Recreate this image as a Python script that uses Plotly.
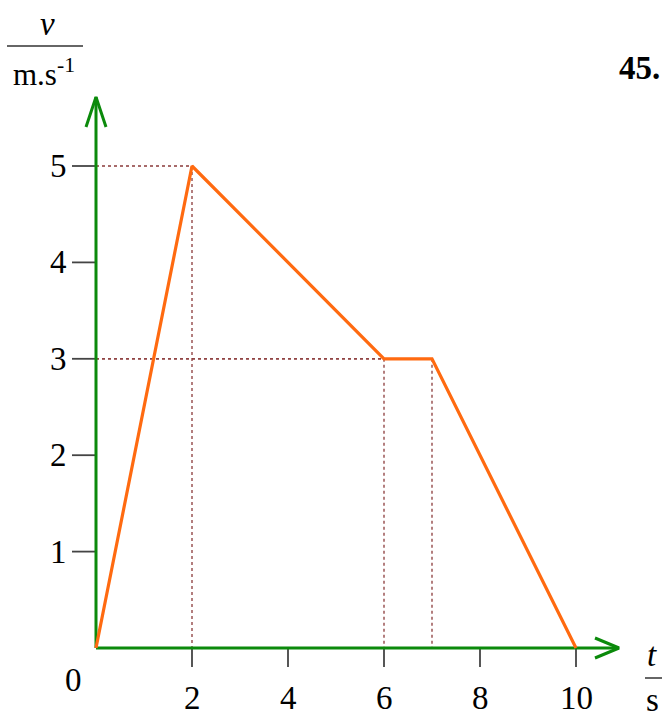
import plotly.graph_objects as go

# Data
t_vals = [0, 2, 6, 7, 10]
v_vals = [0, 5, 3, 3, 0]
x_ticks = [2, 4, 6, 8, 10]
x_tick_labels = ["2", "4", "6", "8", "10"]
y_ticks = [1, 2, 3, 4, 5]
y_tick_labels = ["1", "2", "3", "4", "5"]
guide_points = [(2, 5), (6, 3), (7, 3)]

W, H = 662, 713
X0PX, Y0PX = 96, 648
SX, SY = 48.0, 96.4
xr = [-X0PX / SX, (W - X0PX) / SX]
yr = [-(H - Y0PX) / SY, Y0PX / SY]

SERIF = "Liberation Serif, Times New Roman, serif"
GREEN = "#0b8a0b"
ORANGE = "#ff6a10"
DOT = "#8b3a3a"
FS = 33

fig = go.Figure()

# dotted guide lines
for gx, gy in guide_points:
    fig.add_trace(go.Scatter(x=[0, gx, gx], y=[gy, gy, 0], mode="lines",
                             line=dict(color=DOT, width=1.3, dash="dot"),
                             hoverinfo="skip", showlegend=False))

# tick marks
tx, ty = [], []
for v in x_ticks:
    tx += [v, v, None]
    ty += [0, -19 / SY, None]
for v in y_ticks:
    tx += [-24 / SX, 0, None]
    ty += [v, v, None]
fig.add_trace(go.Scatter(x=tx, y=ty, mode="lines", line=dict(color="#444444", width=1.8),
                         hoverinfo="skip", showlegend=False))

# axes with open arrowheads
x_end = (619 - 96) / SX
y_end = (648 - 97) / SY
ah_len_x, ah_w_x_half = 24 / SX, 10 / SY
ah_len_y, ah_w_y_half = 30 / SY, 10 / SX
fig.add_trace(go.Scatter(
    x=[0, x_end, None, x_end - ah_len_x, x_end, x_end - ah_len_x],
    y=[0, 0, None, ah_w_x_half, 0, -ah_w_x_half],
    mode="lines", line=dict(color=GREEN, width=3), hoverinfo="skip", showlegend=False))
fig.add_trace(go.Scatter(
    x=[0, 0, None, -ah_w_y_half, 0, ah_w_y_half],
    y=[0, y_end, None, y_end - ah_len_y, y_end, y_end - ah_len_y],
    mode="lines", line=dict(color=GREEN, width=3), hoverinfo="skip", showlegend=False))

# velocity graph
fig.add_trace(go.Scatter(x=t_vals, y=v_vals, mode="lines",
                         line=dict(color=ORANGE, width=3.2), showlegend=False))

ann = []
for v, lab in zip(x_ticks, x_tick_labels):
    ann.append(dict(x=v, y=-50 / SY, text=lab, showarrow=False,
                    font=dict(family=SERIF, size=FS, color="black")))
for v, lab in zip(y_ticks, y_tick_labels):
    ann.append(dict(x=-38 / SX, y=v, text=lab, showarrow=False,
                    font=dict(family=SERIF, size=FS, color="black")))
ann.append(dict(x=-23 / SX, y=-32 / SY, text="0", showarrow=False,
                font=dict(family=SERIF, size=FS, color="black")))


def P(px, py):
    return px / W, 1 - py / H


def text_px(px, py, txt, size=FS, **kw):
    x, y = P(px, py)
    ann.append(dict(xref="paper", yref="paper", x=x, y=y, text=txt, showarrow=False,
                    xanchor="center", yanchor="middle",
                    font=dict(family=SERIF, size=size, color="black"), **kw))


text_px(47, 24, "<i>v</i>")
text_px(44, 72, "m.s<sup>-1</sup>", size=31)
text_px(639, 68, "<b>45.</b>")
text_px(652, 655, "<i>t</i>")
text_px(652, 700, "s")

shapes = []
for (a, b, y) in [(7, 83, 46), (645, 662, 678)]:
    x1, yy = P(a, y)
    x2, _ = P(b, y)
    shapes.append(dict(type="line", xref="paper", yref="paper", x0=x1, x1=x2, y0=yy, y1=yy,
                       line=dict(color="#333333", width=1.5)))

fig.update_layout(
    width=W, height=H, margin=dict(l=0, r=0, t=0, b=0),
    paper_bgcolor="white", plot_bgcolor="white",
    xaxis=dict(range=xr, visible=False, fixedrange=True),
    yaxis=dict(range=yr, visible=False, fixedrange=True),
    annotations=ann, shapes=shapes, showlegend=False,
)
fig.write_html(
    "out.html",
    config={"displayModeBar": False},
    post_script="document.body.style.margin='0';document.body.style.overflow='hidden';",
)
